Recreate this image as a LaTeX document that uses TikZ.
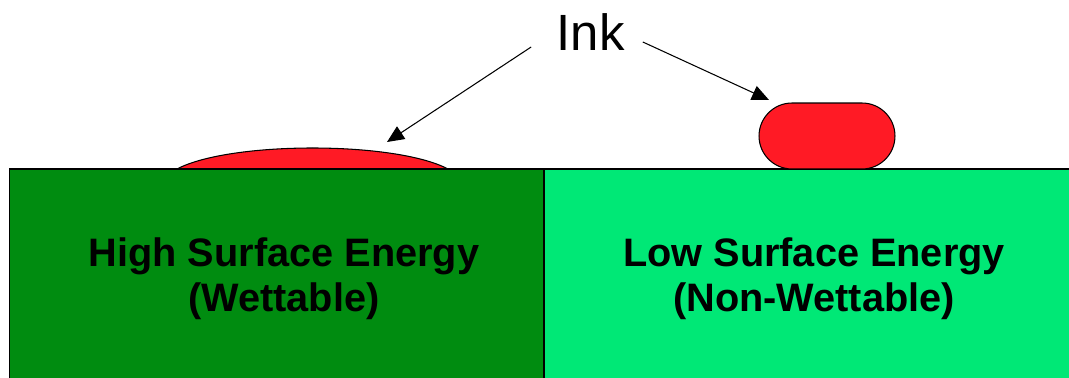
\documentclass[tikz,border=0pt]{standalone}
\usepackage{fontspec}
\setmainfont{Liberation Sans}
\usetikzlibrary{positioning,arrows.meta}
\definecolor{wetgreen}{RGB}{0,140,16}
\definecolor{drygreen}{RGB}{0,232,118}
\definecolor{inkred}{RGB}{255,26,37}

\begin{document}
\begin{tikzpicture}[x=0.02cm,y=-0.02cm,
    substrate/.style={draw,line width=0.6pt,fill=#1,minimum height=4.42cm,inner sep=0pt},
    surftext/.style={font=\fontsize{22.6}{25.6}\selectfont\bfseries,align=center,inner sep=0pt},
    pointer/.style={-{Triangle[length=3.4mm,width=3mm]},line width=0.6pt}]
  \useasboundingbox (0,0) rectangle (1069,378);
  \clip (0,0) rectangle (1069,378);

  % spread-out ink on the wettable side
  \filldraw[fill=inkred,line width=0.6pt] (177,169) .. controls (230,141) and (395,141) .. (448,169);
  \coordinate (wetmark) at (387,142);

  % the two surfaces
  \node[substrate=wetgreen,minimum width=10.7cm] (wet) at (276.5,279.5) {};
  \node[substrate=drygreen,minimum width=10.8cm] (dry) at (814,279.5) {};
  \node[surftext] (wettext) at (284,279) {High Surface Energy\\(Wettable)};
  \node[surftext] (drytext) at (814,279) {Low Surface Energy\\(Non-Wettable)};

  % beaded ink on the non-wettable side
  \node[draw,fill=inkred,line width=0.6pt,minimum width=2.72cm,minimum height=1.32cm,
        rounded corners=0.66cm,inner sep=0pt] (bead) at (827,136) {};
  \coordinate (drymark) at (769,100);

  \node[font=\fontsize{29}{34}\selectfont,inner xsep=0.5cm] (ink) at (590.5,32) {Ink};
  \draw[pointer] ([yshift=-0.3cm]ink.west) -- (wetmark);
  \draw[pointer] ([xshift=-0.14cm,yshift=-0.2cm]ink.east) -- (drymark);
\end{tikzpicture}
\end{document}
